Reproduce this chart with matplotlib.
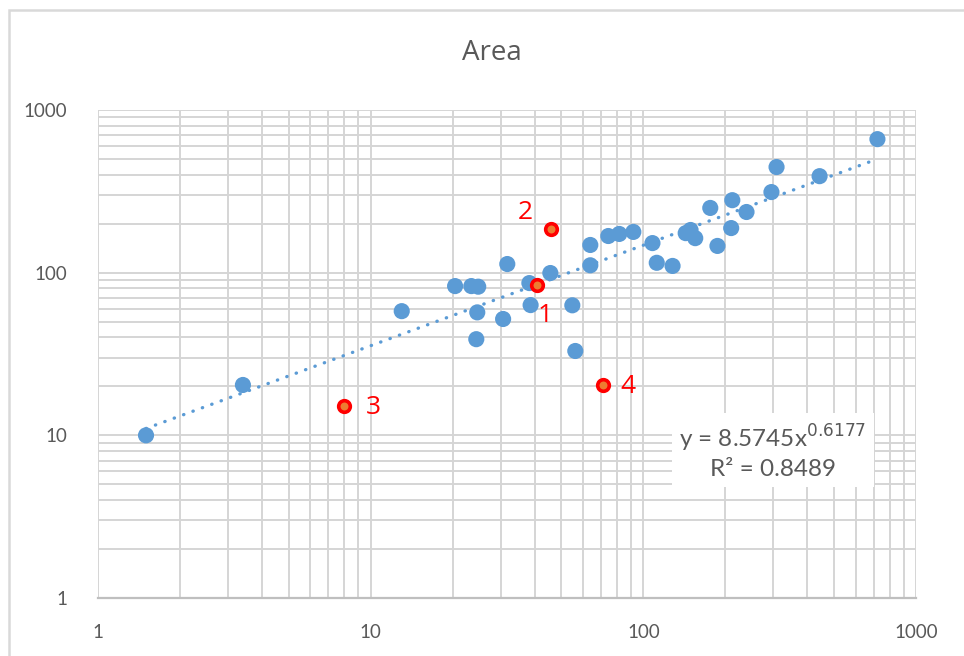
import matplotlib.pyplot as plt
import numpy as np
from matplotlib.patches import Rectangle

plt.rcParams["font.family"] = ["Open Sans", "DejaVu Sans"]

# regular points
area_x = [1.5, 3.4, 13.0, 20.4, 23.4, 24.8, 24.6, 24.4, 31.7, 30.6, 38.2, 38.6,
          45.6, 54.9, 56.3, 63.9, 63.9, 74.4, 81.6, 91.9, 108, 112, 128, 143,
          149, 155, 176, 187, 210, 212, 239, 295, 308, 443, 722]
area_y = [10, 20.4, 58, 82.7, 82.7, 82, 57, 39, 113, 51.9, 86.3, 63.2,
          99.5, 63, 33, 111, 148, 168, 173, 178, 152, 115, 110, 175,
          183, 163, 250, 146, 188, 279, 236, 313, 446, 392, 662]

# highlighted points
flag_x = [40.8, 46.0, 8.0, 71.3]
flag_y = [84, 185, 15.1, 20.4]
flag_labels = ["1", "2", "3", "4"]
flag_offsets = [(6, -22), (-19, 12), (21, -1), (18, -1)]

# power trendline from the chart
coef_a = 8.5745
coef_b = 0.6177
r2 = 0.8489

blue = "#5B9BD5"
grey = "#595959"
grid = "#D5D5D5"

fig = plt.figure(figsize=(9.64, 6.56), dpi=100)
fig.patches.append(Rectangle((9 / 964, -0.1), 1.2, 1 - 10 / 656 + 0.1,
                             transform=fig.transFigure, fill=False,
                             ec="#D9D9D9", lw=1.8))
ax = fig.add_axes([98 / 964, 58 / 656, 818 / 964, 488 / 656])

ax.set_xscale("log")
ax.set_yscale("log")
ax.set_xlim(1, 1000)
ax.set_ylim(1, 1000)

ax.grid(True, which="both", color=grid, lw=1.4)
ax.set_axisbelow(True)
for side in ["top", "right", "left"]:
    ax.spines[side].set_visible(False)
ax.spines["bottom"].set_color("#BFBFBF")
ax.spines["bottom"].set_linewidth(1.6)
ax.tick_params(which="both", length=0)
ax.tick_params(axis="y", pad=22, labelsize=13.5, labelcolor=grey)
ax.tick_params(axis="x", pad=19, labelsize=13.5, labelcolor=grey)
ax.xaxis.set_major_formatter(plt.FuncFormatter(lambda v, p: f"{v:g}"))
ax.yaxis.set_major_formatter(plt.FuncFormatter(lambda v, p: f"{v:g}"))
for lab in ax.get_xticklabels() + ax.get_yticklabels():
    lab.set_family(["Lato", "DejaVu Sans"])

all_x = np.array(area_x + flag_x)
tx = np.geomspace(all_x.min(), all_x.max(), 200)
ax.plot(tx, coef_a * tx ** coef_b, color=blue, lw=2.4,
        linestyle=(0, (0.1, 2.9)), dash_capstyle="round", zorder=2)

ax.scatter(area_x, area_y, s=135, color=blue, edgecolors="none", zorder=3)
ax.scatter(flag_x, flag_y, s=70, color="#ED7D31", edgecolors="#FF0000",
           linewidths=2.6, zorder=4)

for x, y, t, off in zip(flag_x, flag_y, flag_labels, flag_offsets):
    ax.annotate(t, (x, y), xytext=off, textcoords="offset points",
                ha="center", va="center", color="#FF0000", fontsize=19)

ax.text(0.825, 0.301,
        f"y = {coef_a}x$^{{{coef_b}}}$\nR² = {r2}",
        transform=ax.transAxes, ha="center", va="center", color=grey,
        fontsize=17.5, linespacing=1.3, family=["Lato", "DejaVu Sans"],
        bbox=dict(boxstyle="square,pad=0.3", fc="white", ec="none"), zorder=5)

fig.text(492 / 964, 1 - 53 / 656, "Area", ha="center", va="center",
         color=grey, fontsize=20)

fig.savefig("out.png", dpi=100)
